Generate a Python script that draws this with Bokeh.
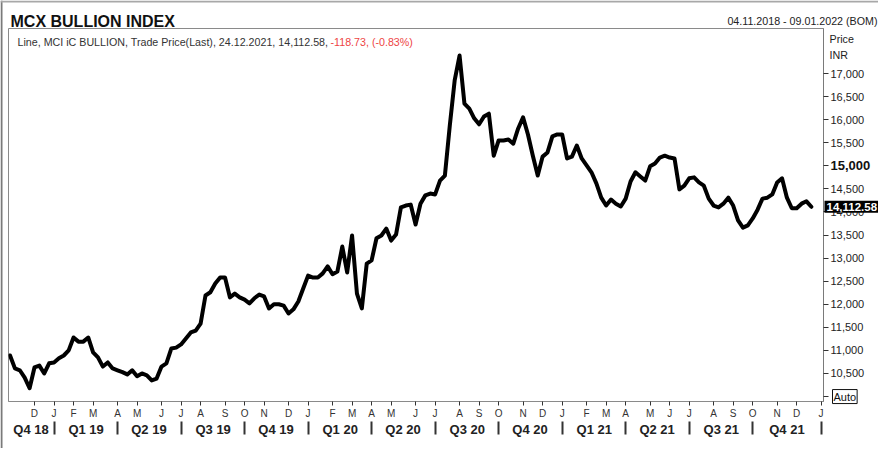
import pandas as pd
from bokeh.plotting import figure
from bokeh.layouts import column
from bokeh.models import Range1d, FixedTicker, LinearAxis, Label, NumeralTickFormatter
from bokeh.embed import file_html
from bokeh.resources import INLINE

# ---------------- data (weekly closes, weeks ending Friday) ----------------
first_week = "2018-11-02"
values = [
    10890, 10610, 10570, 10410, 10180, 10630, 10670, 10500, 10720,
    10740, 10830, 10890, 11000, 11280, 11190, 11190, 11280, 10960, 10850,
    10650, 10740, 10610, 10570, 10530, 10480, 10570, 10440, 10500, 10460,
    10350, 10390, 10650, 10720, 11040, 11060, 11130, 11260, 11390, 11430,
    11580, 12190, 12260, 12450, 12580, 12580, 12150, 12230, 12150, 12100,
    12020, 12130, 12210, 12170, 11910, 12000, 12000, 11970, 11800, 11890,
    12060, 12340, 12620, 12580, 12580, 12670, 12820, 12650, 12710, 13250,
    12690, 13490, 12230, 11910, 12880, 12950, 13430, 13490, 13640, 13380,
    13510, 14100, 14140, 14160, 13730, 14180, 14360, 14400, 14380, 14680,
    14790, 15870, 16850, 17390, 16350, 16240, 16030, 15900, 16070, 16130,
    15220, 15550, 15550, 15570, 15480, 15810, 16050, 15680, 15220, 14790,
    15200, 15290, 15640, 15680, 15680, 15160, 15200, 15440, 15160, 15010,
    14860, 14620, 14310, 14140, 14270, 14180, 14120, 14290, 14660, 14860,
    14770, 14680, 14990, 15050, 15180, 15220, 15180, 15160, 14490, 14570,
    14730, 14750, 14640, 14570, 14290, 14140, 14100, 14180, 14310, 14140,
    13820, 13660, 13710, 13860, 14050, 14290, 14310, 14380, 14640, 14730,
    14310, 14080, 14080, 14180, 14231.31, 14112.58,
]
last_price_text = "14,112.58"
legend_main = "Line, MCI iC BULLION, Trade Price(Last), 24.12.2021, 14,112.58,"
legend_change = "-118.73, (-0.83%)"
chart_title = "MCX BULLION INDEX"
date_span = "04.11.2018 - 09.01.2022 (BOM)"
axis_unit_lines = ["Price", "INR"]

quarter_labels = ["Q4 18", "Q1 19", "Q2 19", "Q3 19", "Q4 19", "Q1 20", "Q2 20",
                  "Q3 20", "Q4 20", "Q1 21", "Q2 21", "Q3 21", "Q4 21"]
month_letters = list("JFMAMJJASOND")
y_tick_values = list(range(10500, 17001, 500))
auto_level = 10000
bold_level = 15000

view_start = "2018-10-30 19:00"
view_end = "2022-01-10 10:00"
y_low, y_high = 9893, 17976

# ---------------- geometry ----------------
W, H = 878, 448
TOP, BOTTOM, LEFT, RIGHT = 28, 47, 8, 55
FONT = "Liberation Sans"

epoch = pd.Timestamp("2018-01-01")


def dn(ts):
    return (pd.Timestamp(ts) - epoch) / pd.Timedelta(days=1)


dates = pd.date_range(first_week, periods=len(values), freq="7D")
xs = [dn(d) for d in dates]
x0, x1 = dn(view_start), dn(view_end)

# month ticks at the first weekly bar (Friday) of each month
month_ticks, month_over, boundaries = [], {}, []
for per in pd.period_range("2018-12", "2022-01", freq="M"):
    d1 = pd.Timestamp(per.year, per.month, 1)
    fri = d1 + pd.Timedelta(days=(4 - d1.weekday()) % 7)
    t = int(round(dn(fri)))
    month_ticks.append(t)
    month_over[t] = month_letters[per.month - 1]
    if per.month in (1, 4, 7, 10):
        boundaries.append(t)

edges = [x0] + boundaries
q_centers = [int(round((edges[i] + edges[i + 1]) / 2)) for i in range(len(boundaries))]
q_over = {c: lab for c, lab in zip(q_centers, quarter_labels)}

# ---------------- main chart ----------------
p = figure(width=W, height=H, x_range=Range1d(x0, x1), y_range=Range1d(y_low, y_high),
           y_axis_location="right", output_backend="svg", toolbar_location=None,
           min_border_left=LEFT, min_border_right=RIGHT, min_border_top=TOP,
           min_border_bottom=BOTTOM)
p.frame_align = False
p.grid.visible = False
p.outline_line_color = "#8a8a8a"
p.background_fill_color = "white"
p.border_fill_color = "white"

p.line(xs, values, line_color="black", line_width=4, line_join="round", line_cap="round")

xa = p.xaxis[0]
xa.ticker = FixedTicker(ticks=month_ticks)
xa.major_label_overrides = month_over
xa.major_label_text_font = FONT
xa.major_label_text_font_size = "10px"
xa.major_label_text_color = "#333333"
xa.major_tick_out = 4
xa.major_tick_in = 0
xa.major_tick_line_color = "#333333"
xa.minor_tick_line_color = None
xa.axis_line_color = "#8a8a8a"
xa.major_label_standoff = 2

qa = LinearAxis(ticker=FixedTicker(ticks=q_centers, minor_ticks=boundaries))
qa.major_label_overrides = q_over
qa.major_label_text_font = FONT
qa.major_label_text_font_size = "13px"
qa.major_label_text_font_style = "bold"
qa.major_label_text_color = "#222222"
qa.major_tick_line_color = None
qa.major_tick_out = 0
qa.major_tick_in = 0
qa.minor_tick_line_color = "#333333"
qa.minor_tick_line_width = 2
qa.minor_tick_in = -13
qa.minor_tick_out = 0
qa.axis_line_color = None
qa.major_label_standoff = 0
p.add_layout(qa, "below")

ya = p.yaxis[0]
ya.ticker = FixedTicker(ticks=[auto_level] + y_tick_values)
ya.formatter = NumeralTickFormatter(format="0,0")
ya.major_label_overrides = {bold_level: "", auto_level: ""}
ya.major_label_text_font = FONT
ya.major_label_text_font_size = "11px"
ya.major_label_text_color = "#222222"
ya.major_tick_out = 5
ya.major_tick_in = 0
ya.major_tick_line_color = "#333333"
ya.minor_tick_line_color = None
ya.axis_line_color = "#7a7a7a"
ya.major_label_standoff = 2

# ---------------- transparent overlay for texts outside the frame ----------------
k = (y_high - y_low) / (H - TOP - BOTTOM)
ov = figure(width=W, height=H, x_range=Range1d(0, W),
            y_range=Range1d(y_low - BOTTOM * k, y_high + TOP * k),
            x_axis_type=None, y_axis_type=None, output_backend="svg",
            toolbar_location=None, min_border=0)
ov.frame_align = False
ov.extra_y_ranges = {"px": Range1d(H, 0)}
ov.outline_line_color = None
ov.background_fill_color = None
ov.border_fill_color = None
ov.margin = (-H, 0, 0, 0)

# outer window border (left and top edges)
ov.segment(x0=[1, 0], y0=[0, 1], x1=[1, W], y1=[H, 1], y_range_name="px",
           line_color=["#7a7a7a", "#a8a8a8"], line_width=2)


def px_label(x, y, text, **kw):
    opts = dict(text_font=FONT, text_font_size="10.7px", text_color="#222222",
                text_baseline="alphabetic")
    opts.update(kw)
    ov.add_layout(Label(x=x, y=y, y_range_name="px", text=text, **opts))


px_label(10, 21, chart_title, text_font_size="16px", text_font_style="bold",
         text_color="#111111")
px_label(W - 1, 20, date_span, text_align="right")
px_label(17, 41, legend_main, text_color="#333333")
px_label(330, 41, legend_change, text_color="#ee4444")
px_label(W - RIGHT + 6, 38, axis_unit_lines[0])
px_label(W - RIGHT + 6, 54, axis_unit_lines[1])

ov.add_layout(Label(x=W - RIGHT + 7, y=bold_level, text="15,000", text_font=FONT,
                    text_font_size="13px", text_font_style="bold", text_color="#111111",
                    text_baseline="middle"))
ov.add_layout(Label(x=W - RIGHT + 1, y=values[-1], text=last_price_text, text_font=FONT,
                    text_font_size="11.5px", text_font_style="bold", text_color="white",
                    text_baseline="middle", background_fill_color="black", padding=2))
ov.add_layout(Label(x=W - RIGHT + 9, y=auto_level, text="Auto", text_font=FONT,
                    text_font_size="11px", text_color="#111111", text_baseline="middle",
                    background_fill_color="white", border_line_color="#111111", padding=1))

layout = column(p, ov)
open("out.html", "w").write(file_html(layout, INLINE))
